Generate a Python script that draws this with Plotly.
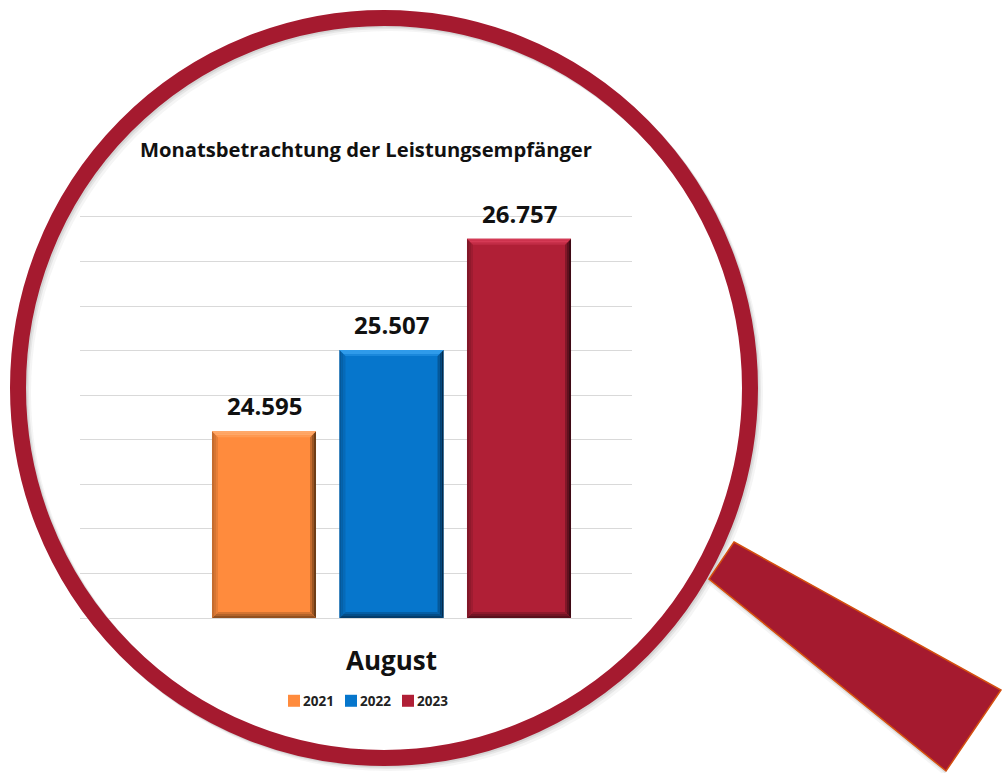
import plotly.graph_objects as go

CATEGORY = ["August"]
YEARS = ["2021", "2022", "2023"]
VALUES = [24595, 25507, 26757]
LABELS = ["24.595", "25.507", "26.757"]
BASE = [22500, 27000]
TICK_STEP = 500
COL_MAIN = ["#FF8B3D", "#0676CC", "#B01F36"]
COL_LIGHT = ["#FFA868", "#2F9BEA", "#D53A55"]
COL_DARK = ["#6E3E18", "#032A4C", "#3E0A14"]
RING = "#A51A2F"
W, H = 1003, 773
PL, PR, PT, PB = 80, 632, 217, 618
CX = 391.5
U = 450.0
GROUPGAP = 0.184
BARGAP = 0.15
STEP = U * (1 - BARGAP) / 3
HALF = STEP * (1 - GROUPGAP) / 2
PX_PER = (PB - PT) / (BASE[1] - BASE[0])


def fx(p):
    return p / W


def fy(p):
    return 1 - p / H


def mix(a, b, t):
    ca = [int(a[i:i + 2], 16) for i in (1, 3, 5)]
    cb = [int(b[i:i + 2], 16) for i in (1, 3, 5)]
    return "#" + "".join(f"{round(x + (y - x) * t):02X}" for x, y in zip(ca, cb))


fig = go.Figure()
for year, val, col in zip(YEARS, VALUES, COL_MAIN):
    fig.add_trace(go.Bar(
        x=CATEGORY, y=[val], name=year,
        marker=dict(color=col, line=dict(width=0)),
    ))

shapes = []
annotations = []


def poly(pts, col, anchor):
    path = "M " + " L ".join(f"{x:.1f},{y:.1f}" for x, y in pts) + " Z"
    return dict(type="path", path=path, xsizemode="pixel", ysizemode="pixel",
                xanchor=0, yanchor=anchor, xref="x", yref="y",
                fillcolor=col, line=dict(width=0), layer="above")


for i, (val, lab) in enumerate(zip(VALUES, LABELS)):
    off = (i - 1) * STEP
    l, r = off - HALF, off + HALF
    h = (val - BASE[0]) * PX_PER
    t, b = 0, -h
    # graded bevel: nested strips, fading from the edge towards the flat face
    for k, frac in enumerate((1.0, 0.7, 0.4)):
        i0, i1 = k * 2, (k + 1) * 2
        shapes.append(poly([(r - i0, t - i0), (r - i1, t - i1), (r - i1, b + i1), (r - i0, b + i0)],
                           mix(COL_MAIN[i], COL_DARK[i], frac), val))
        shapes.append(poly([(l + i0, b + i0), (r - i0, b + i0), (r - i1, b + i1), (l + i1, b + i1)],
                           mix(COL_MAIN[i], COL_DARK[i], frac * 0.75), val))
        shapes.append(poly([(l + i0, t - i0), (l + i1, t - i1), (l + i1, b + i1), (l + i0, b + i0)],
                           mix(COL_MAIN[i], COL_DARK[i], frac * 0.4), val))
        shapes.append(poly([(l + i0, t - i0), (r - i0, t - i0), (r - i1, t - i1), (l + i1, t - i1)],
                           mix(COL_MAIN[i], COL_LIGHT[i], 1.0 if k < 2 else 0.5), val))
    annotations.append(dict(
        x=0, y=val, xref="x", yref="y", text=f"<b>{lab}</b>", showarrow=False,
        xshift=off, yshift=25.5, xanchor="center", yanchor="middle",
        font=dict(family="Open Sans", size=24, color="#111111")))

# magnifying glass ring, shadow first
RCX, RCY, RX, RY = 384, 388, 366, 370
for d, op in ((5, 0.05), (3, 0.08), (1.5, 0.1)):
    shapes.append(dict(type="circle", xref="paper", yref="paper",
                       x0=fx(RCX - RX + d), x1=fx(RCX + RX + d),
                       y0=fy(RCY + RY + d), y1=fy(RCY - RY + d),
                       line=dict(color=f"rgba(60,60,60,{op})", width=16), layer="below"))
shapes.append(dict(type="circle", xref="paper", yref="paper",
                   x0=fx(RCX - RX), x1=fx(RCX + RX),
                   y0=fy(RCY + RY), y1=fy(RCY - RY),
                   line=dict(color=RING, width=16), layer="above"))

HANDLE = [(734, 542), (1001, 690), (946, 771), (709, 579)]


def hpath(dx=0, dy=0):
    return "M " + " L ".join(f"{fx(x + dx):.5f},{fy(y + dy):.5f}" for x, y in HANDLE) + " Z"


for d, op in ((4, 0.06), (2, 0.12)):
    shapes.append(dict(type="path", xref="paper", yref="paper", path=hpath(-d / 2, d),
                       fillcolor=f"rgba(60,60,60,{op})", line=dict(width=0), layer="below"))
shapes.append(dict(type="path", xref="paper", yref="paper", path=hpath(),
                   fillcolor="#A51A2F", line=dict(color="#D4500F", width=1.5), layer="above"))

fig.update_layout(
    width=W, height=H,
    margin=dict(l=0, r=0, t=0, b=0),
    paper_bgcolor="white", plot_bgcolor="white",
    barmode="group", bargap=BARGAP, bargroupgap=GROUPGAP,
    showlegend=True,
    shapes=shapes,
    annotations=annotations,
    title=dict(text="<b>Monatsbetrachtung der Leistungsempfänger</b>",
               font=dict(family="Open Sans", size=20.2, color="#111111"),
               x=fx(366), xanchor="center", y=fy(150), yanchor="middle"),
    xaxis=dict(domain=[fx(PL), fx(PR)],
               type="category",
               range=[(PL - CX) / U, (PR - CX) / U],
               showgrid=False, zeroline=False, ticks="",
               showline=True, mirror=True, linecolor="#D9D9D9", linewidth=1,
               tickfont=dict(family="Open Sans", size=26, color="#111111", weight="bold"),
               ticklabelstandoff=20),
    yaxis=dict(domain=[fy(PB), fy(PT)],
               range=BASE, dtick=TICK_STEP, tick0=BASE[0],
               showticklabels=False, showgrid=True, gridcolor="#D9D9D9", gridwidth=1,
               zeroline=False, showline=False, ticks=""),
    legend=dict(orientation="h", x=fx(263), xanchor="left", y=fy(701), yanchor="middle",
                font=dict(family="Open Sans", size=13.5, color="#222222", weight="bold"),
                itemwidth=30, entrywidth=12, entrywidthmode="pixels", bgcolor="rgba(0,0,0,0)"),
)

# Plotly leaves a fixed gap between swatch and text; close it as in the reference,
# and let the last legend entry run past the clip box computed from entrywidth.
POST = """
document.body.style.margin='0';
document.querySelectorAll('.legendsymbols').forEach(function(s){
  s.setAttribute('transform','translate(11,0)');
});
document.querySelectorAll('.legend .scrollbox').forEach(function(s){
  s.removeAttribute('clip-path');
  s.style.clipPath='none';
});
"""
fig.write_html("out.html", post_script=POST, config={"displayModeBar": False})
